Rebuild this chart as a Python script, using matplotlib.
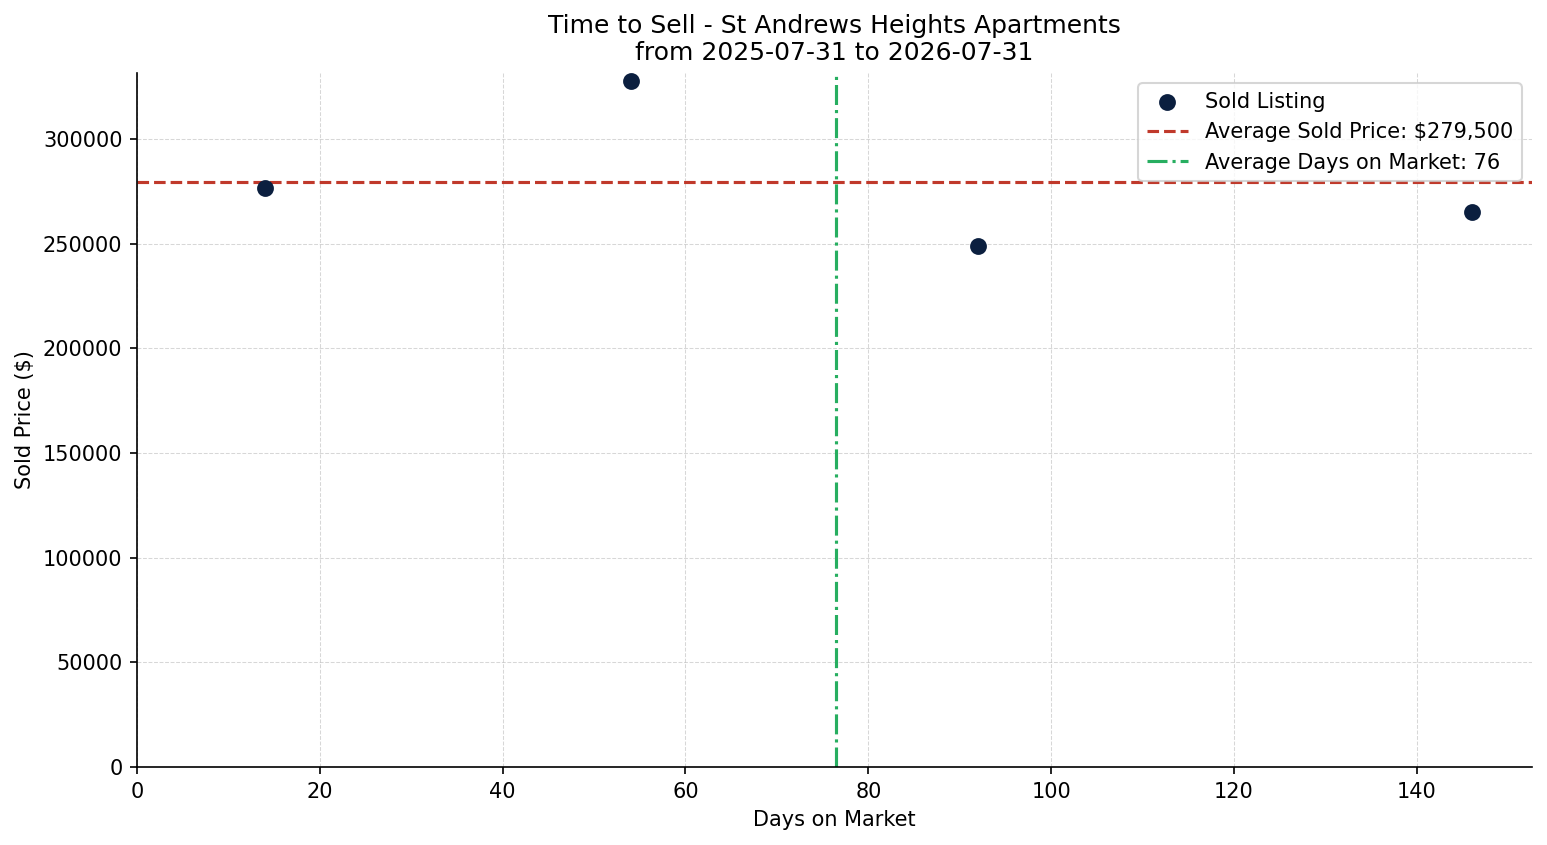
import matplotlib
matplotlib.use('Agg')
import matplotlib.pyplot as plt
import numpy as np

# sold listings
days_on_market = [14, 54, 92, 146]
sold_prices = [276500, 327500, 249000, 265000]

avg_price = np.mean(sold_prices)
avg_days = np.mean(days_on_market)

fig, ax = plt.subplots(figsize=(1547 / 150, 845 / 150), dpi=150)

ax.scatter(days_on_market, sold_prices, s=50, color='#0b1f3f', label='Sold Listing', zorder=3)
ax.axhline(avg_price, color='#c0392b', linestyle='--', linewidth=1.5,
           label='Average Sold Price: ${:,.0f}'.format(avg_price))
ax.axvline(avg_days, color='#27ae60', linestyle='-.', linewidth=1.5,
           label='Average Days on Market: {}'.format(int(avg_days)))

ax.set_xlim(left=0)
ax.set_ylim(bottom=0)

ax.set_title('Time to Sell - St Andrews Heights Apartments\nfrom 2025-07-31 to 2026-07-31')
ax.set_xlabel('Days on Market')
ax.set_ylabel('Sold Price ($)')
ax.grid(True, linestyle='--', linewidth=0.5, alpha=0.5)
ax.set_axisbelow(True)
for side in ('top', 'right'):
    ax.spines[side].set_visible(False)
ax.legend(loc='upper right')

fig.subplots_adjust(left=137 / 1547, right=1532 / 1547, top=1 - 73 / 845, bottom=1 - 767 / 845)
plt.savefig('out.png', dpi=150)
